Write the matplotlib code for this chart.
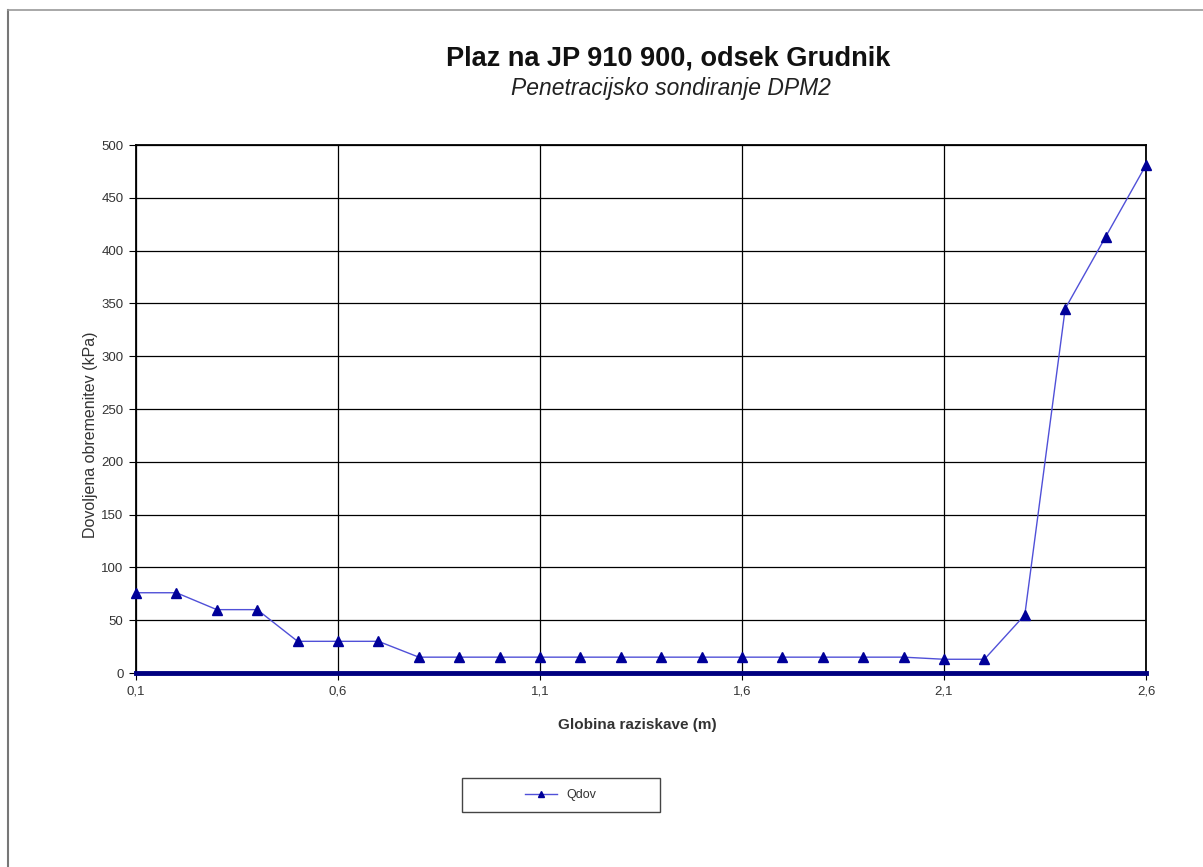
import matplotlib.pyplot as plt
from matplotlib.lines import Line2D
from matplotlib.patches import Rectangle
from matplotlib.ticker import FuncFormatter

plt.rcParams['font.family'] = ['Liberation Sans', 'DejaVu Sans']

# Data
depth = [0.1, 0.2, 0.3, 0.4, 0.5, 0.6, 0.7, 0.8, 0.9, 1.0, 1.1, 1.2, 1.3,
         1.4, 1.5, 1.6, 1.7, 1.8, 1.9, 2.0, 2.1, 2.2, 2.3, 2.4, 2.5, 2.6]
qdov = [76, 76, 60, 60, 30, 30, 30, 15, 15, 15, 15, 15, 15,
        15, 15, 15, 15, 15, 15, 15, 13, 13, 55, 345, 413, 481]
x_ticks = [0.1, 0.6, 1.1, 1.6, 2.1, 2.6]
y_ticks = [0, 50, 100, 150, 200, 250, 300, 350, 400, 450, 500]

TITLE = 'Plaz na JP 910 900, odsek Grudnik'
SUBTITLE = 'Penetracijsko sondiranje DPM2'
X_LABEL = 'Globina raziskave (m)'
Y_LABEL = 'Dovoljena obremenitev (kPa)'
SERIES_NAME = 'Qdov'

W, H = 1203, 867
fig = plt.figure(figsize=(W / 100, H / 100), dpi=100)
fig.patch.set_facecolor('white')

# page border (left and top only visible)
fig.add_artist(Line2D([8 / W, 8 / W], [0, 1 - 10 / H], transform=fig.transFigure,
                      color='#777777', lw=1.5))
fig.add_artist(Line2D([8 / W, 1], [1 - 10 / H, 1 - 10 / H], transform=fig.transFigure,
                      color='#999999', lw=1.2))

ax = fig.add_axes([136 / W, 1 - 673 / H, (1146 - 136) / W, (673 - 145) / H])
ax.set_xlim(0.1, 2.6)
ax.set_ylim(0, 500)
ax.set_xticks(x_ticks)
ax.set_yticks(y_ticks)
ax.xaxis.set_major_formatter(FuncFormatter(lambda v, p: f'{v:.1f}'.replace('.', ',')))
ax.grid(True, color='black', lw=0.9)
ax.set_axisbelow(True)
for s in ax.spines.values():
    s.set_color('black')
    s.set_linewidth(1.3)
ax.tick_params(direction='out', length=5, width=0.8, labelsize=9.5,
               labelcolor='#333333', pad=4)

ax.axhline(0, color='#000080', lw=3.5, zorder=4, clip_on=False)
line, = ax.plot(depth, qdov, color='#5050d8', lw=1.0, marker='^', markersize=6.5,
                markerfacecolor='#000099', markeredgecolor='#000099', zorder=5,
                clip_on=False, label=SERIES_NAME)

fig.text(668 / W, 1 - 58 / H, TITLE, ha='center', va='center',
         fontsize=19.5, fontweight='bold', color='#111111')
fig.text(671 / W, 1 - 88 / H, SUBTITLE, ha='center', va='center',
         fontsize=16.5, style='italic', color='#222222')
fig.text(637 / W, 1 - 725 / H, X_LABEL, ha='center', va='center',
         fontsize=11, fontweight='bold', color='#333333')
fig.text(90 / W, 1 - 435 / H, Y_LABEL, ha='center', va='center',
         fontsize=11.5, rotation=90, color='#333333')

# legend box
fig.add_artist(Rectangle((462 / W, 1 - 812 / H), 198 / W, 34 / H,
                         transform=fig.transFigure, fill=False,
                         edgecolor='#444444', lw=1.0))
leg = fig.legend(handles=[line], loc='center', bbox_to_anchor=(561 / W, 1 - 795 / H),
                 frameon=False, fontsize=9, handlelength=2.5, markerscale=0.7)
for t in leg.get_texts():
    t.set_color('#333333')

fig.savefig('out.png', dpi=100)
